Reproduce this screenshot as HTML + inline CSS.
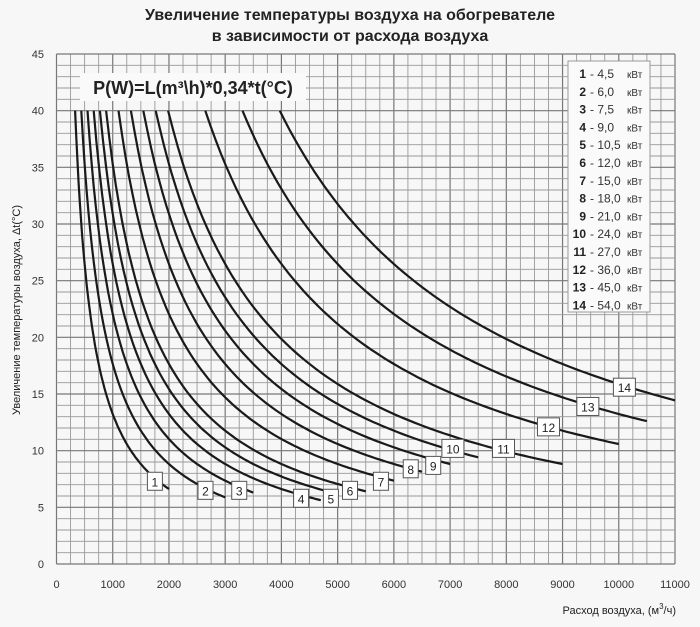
<!DOCTYPE html>
<html><head><meta charset="utf-8"><style>
body{margin:0;background:#f7f7f7;}
svg{display:block;font-family:"Liberation Sans","DejaVu Sans",sans-serif;}
</style></head><body>
<svg id="c" width="700" height="627" viewBox="0 0 700 627">
<rect width="700" height="627" fill="#f7f7f7"/>
<text x="350" y="20" text-anchor="middle" font-size="16" font-weight="bold" fill="#222">Увеличение температуры воздуха на обогревателе</text>
<text x="350" y="41" text-anchor="middle" font-size="16" font-weight="bold" fill="#222">в зависимости от расхода воздуха</text>
<g id="grid"></g>
<g id="axes"></g>
<g id="curves"></g>
<g id="labels"></g>
<rect x="80" y="73" width="226" height="28" fill="#fafafa"/>
<text x="193" y="94" text-anchor="middle" font-size="18" font-weight="bold" fill="#222">P(W)=L(m³\h)*0,34*t(°C)</text>
<g id="legend"></g>
<text transform="translate(20,310) rotate(-90)" text-anchor="middle" font-size="11" fill="#222">Увеличение температуры воздуха, Δt(°C)</text>
<text x="676" y="614" text-anchor="end" font-size="11" fill="#222">Расход воздуха, (м<tspan dy="-5" font-size="8">3</tspan><tspan dy="5">/ч)</tspan></text>
</svg>
<script>
const powers=[4.5,6.0,7.5,9.0,10.5,12.0,15.0,18.0,21.0,24.0,27.0,36.0,45.0,54.0];
const powerLabels=["4,5","6,0","7,5","9,0","10,5","12,0","15,0","18,0","21,0","24,0","27,0","36,0","45,0","54,0"];
const endFlows=[2000,3000,3500,4700,5000,5500,6000,6500,7000,7500,9000,10000,10500,11000];
const labelFlows=[1750,2650,3250,4350,4880,5220,5770,6300,6700,7050,7950,8750,9450,10100];
const labelTemps=[7.3,6.5,6.5,5.8,5.8,6.5,7.3,8.4,8.7,10.2,10.2,12.1,13.9,15.6];
const xTicks=[0,1000,2000,3000,4000,5000,6000,7000,8000,9000,10000,11000];
const yTicks=[0,5,10,15,20,25,30,35,40,45];
const maxTemp=40;
const X0=56.5,X1=675,Y0=564,Y1=54;
const sx=v=>X0+(v/11000)*(X1-X0);
const sy=v=>Y0-(v/45)*(Y0-Y1);
const NS="http://www.w3.org/2000/svg";
function mk(tag,attrs,parent){const e=document.createElementNS(NS,tag);for(const k in attrs)e.setAttribute(k,attrs[k]);parent.appendChild(e);return e;}
const grid=document.getElementById('grid');
for(let v=0;v<=11000;v+=250){
 const l=mk('line',{x1:sx(v),x2:sx(v),y1:Y1,y2:Y0,stroke:v%1000===0?'#777':'#999','stroke-width':v%1000===0?1.2:0.9},grid);
 
 
}
for(let v=0;v<=45;v++){
 const l=mk('line',{x1:X0,x2:X1,y1:sy(v),y2:sy(v),stroke:v%5===0?'#777':'#999','stroke-width':v%5===0?1.2:0.9},grid);
 
 
}
const axes=document.getElementById('axes');
xTicks.forEach(v=>{
 const t=mk('text',{x:sx(v),y:588,'text-anchor':'middle','font-size':11,fill:'#333'},axes);t.textContent=v;
 
 
});
yTicks.forEach(v=>{
 const t=mk('text',{x:44,y:sy(v)+4,'text-anchor':'end','font-size':11,fill:'#333'},axes);t.textContent=v;
 
 
});
const curves=document.getElementById('curves');
const labels=document.getElementById('labels');
powers.forEach((p,i)=>{
 const f=q=>p*1000/(0.34*q);
 const L0=p*1000/(0.34*maxTemp);
 let d='';
 for(let k=0;k<=80;k++){const q=L0+(endFlows[i]-L0)*k/80;d+=(k?'L':'M')+sx(q).toFixed(1)+','+sy(f(q)).toFixed(1);}
 const path=mk('path',{d:d,fill:'none',stroke:'#1a1a1a','stroke-width':2.2},curves);
 
 
 const bx=sx(labelFlows[i]),by=sy(labelTemps[i]);
 const w=i>=9?22:15;
 const r=mk('rect',{x:bx-w/2,y:by-9,width:w,height:18,fill:'#fff',stroke:'#555','stroke-width':1},labels);
 
 
 const t=mk('text',{x:bx,y:by+5,'text-anchor':'middle','font-size':12,fill:'#222'},labels);t.textContent=i+1;
 
 
});
const lg=document.getElementById('legend');
const lr=mk('rect',{x:568,y:61,width:82,height:251,fill:'#fafafa',stroke:'#999','stroke-width':1},lg);


powers.forEach((p,i)=>{
 const y=74+i*17.8;
 const t=mk('text',{x:586,y:y+4,'text-anchor':'end','font-size':12,'font-weight':'bold',fill:'#222'},lg);t.textContent=i+1;
 
 
 const t2=mk('text',{x:590,y:y+4,'font-size':12,fill:'#333'},lg);t2.textContent='- '+powerLabels[i];
 
 
 const t3=mk('text',{x:627,y:y+4,'font-size':10,fill:'#333'},lg);t3.textContent='кВт';
 
 
});
</script>
</body></html>
